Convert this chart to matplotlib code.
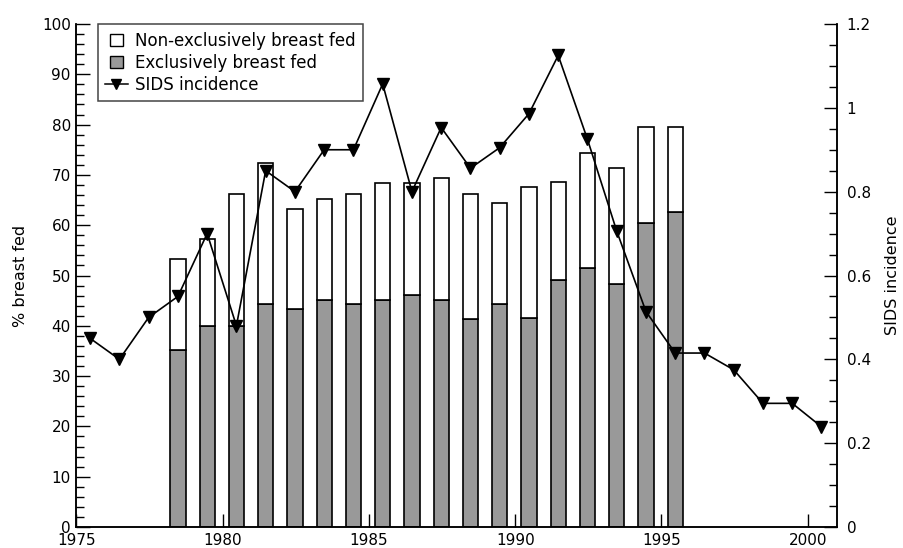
import numpy as np
import matplotlib.pyplot as plt
import matplotlib.patches as mpatches
from matplotlib.lines import Line2D
from matplotlib.legend_handler import HandlerPatch
from matplotlib.ticker import MultipleLocator

plt.rcParams['font.family'] = ['DejaVu Sans']

# Breast feeding survey years (bars)
bar_years = np.arange(1978, 1996)
# % breast fed in total (top of bar)
total_fed = [53.3, 57.3, 66.2, 72.3, 63.2, 65.2, 66.3, 68.4, 68.4, 69.4,
             66.3, 64.4, 67.5, 68.6, 74.4, 71.4, 79.6, 79.6]
# % exclusively breast fed (grey part)
exclusive_fed = [35.1, 40.0, 40.0, 44.3, 43.3, 45.2, 44.3, 45.2, 46.2, 45.2,
                 41.3, 44.3, 41.5, 49.2, 51.4, 48.4, 60.5, 62.6]

# SIDS incidence per 1000 live births
sids_years = np.arange(1975, 2001)
sids_rate = [0.45, 0.40, 0.50, 0.55, 0.70, 0.48, 0.85, 0.80, 0.90, 0.90,
             1.057, 0.80, 0.953, 0.856, 0.905, 0.986, 1.125, 0.925, 0.706,
             0.514, 0.415, 0.415, 0.375, 0.295, 0.295, 0.239]

non_exclusive = np.array(total_fed) - np.array(exclusive_fed)
offset = 0.47

fig = plt.figure(figsize=(9.04, 5.48), dpi=100)
ax = fig.add_axes([76.4 / 904, 1 - 527 / 548, (837 - 76.4) / 904, (527 - 24) / 548])
ax2 = ax.twinx()

grey = '#999999'
ax.bar(bar_years + offset, exclusive_fed, width=0.52, color=grey,
       edgecolor='black', linewidth=1.2, zorder=2)
ax.bar(bar_years + offset, non_exclusive, bottom=exclusive_fed, width=0.52,
       color='white', edgecolor='black', linewidth=1.2, zorder=2)

ax2.plot(sids_years + offset, sids_rate, color='black', linewidth=1.2,
         marker='v', markersize=8, markerfacecolor='black', zorder=3)

ax.set_xlim(1975, 2001)
ax.set_ylim(0, 100)
ax2.set_ylim(0, 1.2)

ax.set_xticks([1975, 1980, 1985, 1990, 1995, 2000])
ax.yaxis.set_major_locator(MultipleLocator(10))
ax.yaxis.set_minor_locator(MultipleLocator(2))
ax2.set_yticks([0, 0.2, 0.4, 0.6, 0.8, 1.0, 1.2])
ax2.set_yticklabels(['0', '0.2', '0.4', '0.6', '0.8', '1', '1.2'])
ax2.yaxis.set_minor_locator(MultipleLocator(0.05))

ax.tick_params(axis='x', direction='in', length=9.5, width=1, labelsize=11, pad=4.5,
               top=False)
ax.tick_params(axis='y', which='major', direction='in', length=10, width=1,
               labelsize=11, pad=4)
ax.tick_params(axis='y', which='minor', direction='in', length=6, width=1)
ax2.tick_params(axis='y', which='major', direction='in', length=9.5, width=1,
                labelsize=11, pad=7)
ax2.tick_params(axis='y', which='minor', direction='in', length=6, width=1)

for a in (ax, ax2):
    a.spines['top'].set_visible(False)
    for s in ('left', 'right', 'bottom'):
        a.spines[s].set_linewidth(1.1)

ax.set_ylabel('% breast fed', fontsize=11.5, labelpad=10)
ax2.set_ylabel('SIDS incidence', fontsize=11.5, labelpad=10)


def square_patch(legend, orig_handle, xdescent, ydescent, width, height, fontsize):
    s = height
    return mpatches.Rectangle((-xdescent + (width - s) / 2, -ydescent), s, s)


handles = [
    mpatches.Patch(facecolor='white', edgecolor='black', linewidth=1),
    mpatches.Patch(facecolor=grey, edgecolor='black', linewidth=1),
    Line2D([], [], color='black', linewidth=1.1, marker='v', markersize=7),
]
labels = ['Non-exclusively breast fed', 'Exclusively breast fed', 'SIDS incidence']
leg = ax2.legend(handles, labels, loc='upper left', bbox_to_anchor=(0.028, 1.0),
                 borderaxespad=0, fontsize=12, frameon=True, fancybox=False,
                 framealpha=1, edgecolor='#444444', handlelength=1.35,
                 handleheight=0.75, handletextpad=0.45, labelspacing=0.25,
                 borderpad=0.45,
                 handler_map={mpatches.Patch: HandlerPatch(patch_func=square_patch)})
leg.get_frame().set_linewidth(1.1)

fig.savefig('out.png', dpi=100)
